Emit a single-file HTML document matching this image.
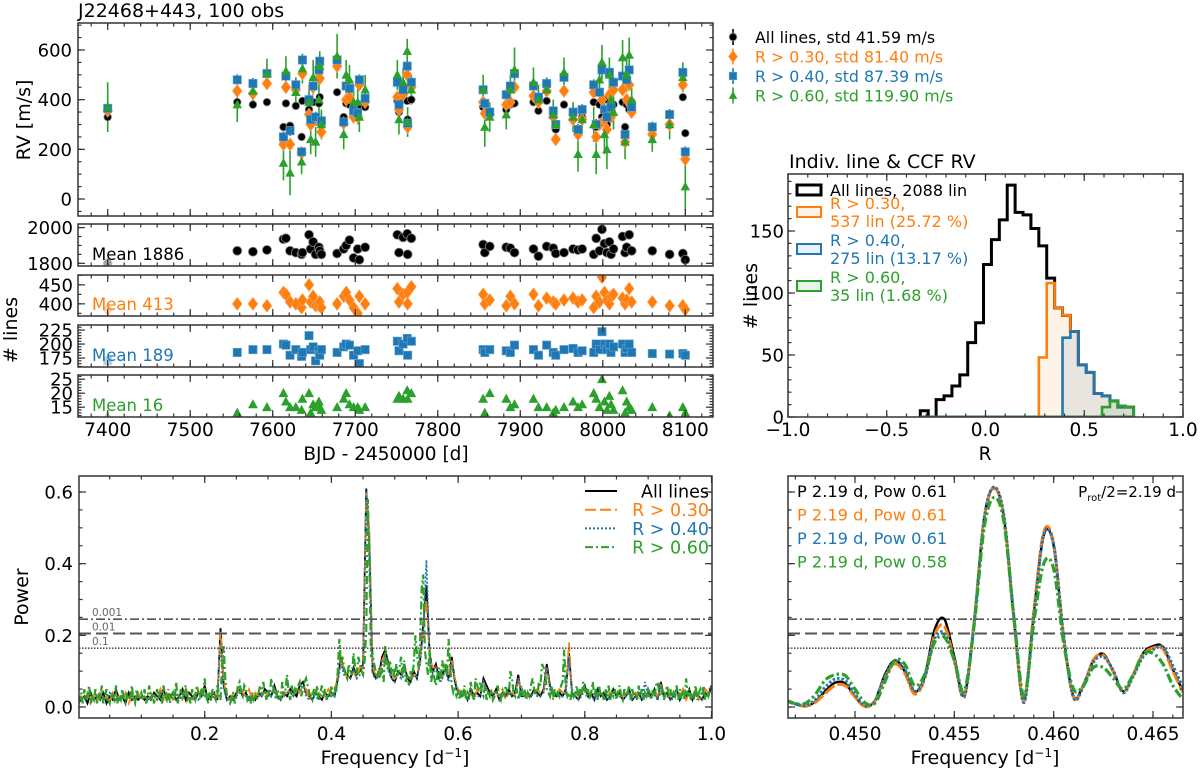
<!DOCTYPE html>
<html><head><meta charset="utf-8"><title>J22468+443 RV lines</title>
<style>
html,body{margin:0;padding:0;background:#fff;}
svg{display:block;font-family:"DejaVu Sans","Liberation Sans",sans-serif;}
</style></head>
<body>
<svg id="fig" xmlns="http://www.w3.org/2000/svg" width="1200" height="769" viewBox="0 0 1200 769"></svg>
<script>
// ---------------- DATA ----------------
const epochs = [7400,7557,7576,7593,7613,7616,7621,7628,7635,7636,7644,7646,7649,7652,7656,7657,7659,7678,7686,7689,7693,7698,7703,7705,7712,7751,7753,7758,7763,7763.5,7768,7855,7857,7863,7883,7888,7893,7916,7922,7932,7940,7943,7953,7964,7970,7975,7989,7992,7996,7999,8002,8005,8008,8010,8013,8024,8027,8029,8032,8035,8060,8081,8097,8100];
const rvAll = [330,390,380,390,290,385,295,375,250,395,360,300,390,310,385,410,300,430,330,385,380,370,365,380,370,395,350,400,395,320,400,370,385,340,360,380,385,390,355,395,330,280,380,340,270,330,390,290,380,330,400,300,370,350,380,390,290,380,360,390,290,340,410,265];
const rvR30 = [355,435,425,465,220,450,220,440,185,505,340,300,450,320,490,485,270,535,305,400,410,330,330,460,390,410,360,420,500,290,450,390,345,340,380,390,450,415,390,435,330,240,435,320,260,320,430,250,300,400,320,280,420,330,440,440,230,400,460,350,260,300,460,160];
const rvR40 = [365,480,465,505,250,495,275,460,190,560,400,320,455,330,520,555,315,560,310,455,445,355,345,480,405,470,380,440,535,305,470,440,385,350,420,455,505,455,410,465,355,300,490,350,280,360,460,300,430,520,360,330,510,370,470,495,260,480,520,370,290,340,510,190];
const rvR60 = [370,380,435,505,145,515,105,430,150,525,390,240,490,230,400,535,300,575,260,500,480,390,390,330,440,500,320,470,595,310,440,440,290,330,340,440,520,470,400,440,340,300,510,330,180,320,300,180,480,550,260,200,500,400,350,570,230,500,580,400,240,300,490,50];
const rvR60Err = [100,70,50,60,70,60,90,60,50,60,70,60,70,60,70,60,60,90,60,60,60,70,90,60,60,60,60,60,50,60,60,60,80,60,60,60,90,60,60,50,60,60,60,60,70,60,70,80,70,70,80,80,70,70,70,70,70,70,70,60,50,60,60,100];
const nAll = [1800,1870,1865,1875,1935,1940,1870,1860,1850,1860,1960,1880,1920,1850,1890,1870,1850,1855,1880,1900,1930,1830,1880,1820,1890,1960,1860,1945,1965,1850,1940,1905,1860,1895,1890,1885,1860,1880,1840,1895,1885,1855,1860,1880,1875,1880,1850,1940,1870,1990,1910,1860,1920,1850,1880,1950,1860,1890,1960,1870,1870,1850,1855,1820];
const nR30 = [385,400,400,395,430,425,405,400,390,410,450,405,420,395,395,405,390,400,420,430,410,390,375,420,400,440,405,425,430,400,445,425,400,410,395,420,400,425,395,415,405,400,410,415,405,410,390,420,405,470,430,410,400,420,425,415,400,410,440,405,405,395,395,385];
const nR40 = [170,185,190,190,200,198,180,190,178,185,215,190,195,170,188,180,190,185,195,200,198,180,188,165,190,205,188,200,210,180,205,190,185,190,188,185,198,190,180,198,185,180,190,192,185,188,185,200,190,222,200,190,200,185,195,200,185,192,200,185,183,182,183,180];
const nR60 = [12,13,16,15,20,17,15,15,14,18,20,13,16,15,17,15,14,15,18,20,16,15,15,14,15,18,19,18,21,18,20,18,13,20,18,15,16,18,15,15,13,14,15,17,15,16,20,18,15,25,17,14,19,16,14,21,13,17,15,14,15,12,15,13];
const meanLabels = ["Mean 1886","Mean 413","Mean 189","Mean 16"];
const legendRV = ["All lines, std 41.59 m/s","R > 0.30, std 81.40 m/s","R > 0.40, std 87.39 m/s","R > 0.60, std 119.90 m/s"];

// histogram (bin edges start, width)
const histStart = -0.33, histWidth = 0.04;
const histAll = [5,0,14,17,25,34,60,76,123,143,159,187,165,163,152,138,112,88,82,69,42,36,19,17,13,8,8];
const histR30 = [0,0,0,0,0,0,0,0,0,0,0,0,0,0,0,48,108,88,82,69,42,36,19,17,13,8,8];
const histR40 = [0,0,0,0,0,0,0,0,0,0,0,0,0,0,0,0,0,0,64,69,42,36,19,17,13,8,8];
const histR60 = [0,0,0,0,0,0,0,0,0,0,0,0,0,0,0,0,0,0,0,0,0,0,0,8,13,9,8];
const histLegend = [["All lines, 2088 lin"],["R > 0.30,","537 lin (25.72 %)"],["R > 0.40,","275 lin (13.17 %)"],["R > 0.60,","35 lin (1.68 %)"]];

// periodograms (power x100); coarse grid step 0.005 for first three, 0.0025 for R>0.60
const pgStepA = 0.005, pgStepB = 0.0025;
const pgAll = [2,3,1,4,2,3,2,4,1,3,2,5,2,3,1,4,2,3,2,3, 2,3,2,4,3,2,5,2,3,4,2,3,5,2,4,3,2,4,3,6, 2,3,4,2,22,6,2,3,2,4,5,3,4,2,3,2,4,3,5,4, 3,6,3,2,4,3,5,4,3,6,7,4,3,2,4,3,2,4,3,4, 3,8,14,10,9,8,11,9,10,12,61,45,10,8,9,14,16,12,8,7, 10,9,12,8,7,10,8,13,23,34,15,10,12,8,9,11,8,14,7,4, 3,4,2,5,3,4,3,8,6,4,3,5,2,4,3,5,3,4,9,3, 3,4,3,5,4,3,5,12,6,4,3,4,3,5,15,4,3,2,4,6, 3,4,2,5,3,4,2,3,5,3,4,2,3,5,2,3,4,2,3,4, 3,5,2,7,3,4,2,3,5,2,4,3,5,2,4,3,2,4,3,6];
const pgR30 = [3,2,4,1,3,2,4,2,3,1,4,2,3,2,4,1,3,2,4,2, 3,2,4,3,2,5,2,4,3,2,4,3,2,5,3,2,4,3,5,4, 3,2,4,3,21,7,3,2,4,3,6,4,3,5,2,4,3,4,4,3, 4,5,3,4,3,5,4,3,5,4,6,5,2,4,3,4,3,3,5,3, 4,9,13,11,8,9,10,8,11,11,60,49,11,9,8,13,15,11,9,8, 9,10,11,9,8,9,9,12,22,30,14,11,11,9,8,12,9,13,8,5, 4,3,4,4,2,5,4,7,5,3,4,4,3,5,2,4,4,3,8,4, 4,3,4,4,5,4,4,11,5,3,4,5,4,4,18,3,4,3,5,5, 4,3,3,4,4,3,3,4,4,4,3,3,4,4,3,4,3,3,4,3, 4,4,3,6,4,3,3,4,4,3,5,2,4,3,5,2,3,5,4,5];
const pgR40 = [2,2,3,2,2,3,3,2,2,4,3,2,2,4,2,3,3,2,3,2, 3,2,3,3,2,4,3,3,2,3,3,2,4,3,3,2,3,2,4,3, 2,2,3,3,18,5,2,2,3,3,4,3,3,3,2,3,3,3,4,3, 3,5,2,3,3,4,4,3,4,5,6,3,2,3,3,2,3,3,3,3, 3,7,12,9,8,8,10,8,9,10,61,45,9,8,8,12,14,10,8,7, 9,8,11,7,7,9,8,12,21,41,14,9,11,7,8,10,7,12,7,4, 3,3,2,4,3,3,3,7,5,3,3,4,2,3,3,4,3,3,8,3, 3,3,3,4,3,3,4,11,5,3,3,3,3,4,14,3,3,2,3,5, 3,3,2,4,3,3,2,3,4,3,3,2,3,4,2,3,3,2,7,3, 3,4,2,6,3,3,2,3,4,2,3,3,4,2,3,3,2,3,3,5];
const pgR60 = [2,4,1,5,2,3,6,1,3,2,5,1,4,2,6,1,3,5,2,1,4,3,2,6,1,3,2,5,2,1,4,2,3,6,2,1,5,2,3,4,
 2,5,1,3,6,2,4,1,3,5,2,4,1,6,3,2,5,1,3,4,2,7,1,3,5,2,4,6,2,3,1,5,3,2,6,4,2,5,3,8,
 3,1,4,2,5,3,2,6,4,2,12,17,8,3,2,1,2,4,1,3,6,7,4,3,6,5,2,3,1,4,2,3,2,4,6,3,7,4,2,5,
 3,8,6,4,2,5,3,2,7,3,5,9,4,2,6,3,5,4,6,7,3,5,7,8,6,4,3,2,5,3,6,2,4,6,3,5,2,4,3,6,
 3,5,4,10,19,12,14,11,9,8,12,10,9,15,11,9,14,12,10,9,13,21,58,40,14,15,12,10,8,11,9,10,7,17,12,10,13,9,11,8,
 12,9,11,14,8,13,7,9,6,10,8,12,20,15,11,18,33,37,16,12,9,16,7,10,8,6,9,11,7,13,10,12,9,19,11,6,4,5,3,4,
 2,5,3,6,2,4,3,7,4,2,8,6,5,7,4,3,6,2,4,3,5,2,3,4,6,3,2,5,3,6,4,3,10,8,4,3,5,2,4,6,
 3,5,2,4,3,6,8,5,4,3,7,6,12,11,9,5,4,3,6,2,5,3,4,3,6,7,16,5,3,4,2,5,3,4,6,2,5,3,7,5,
 3,5,2,4,7,3,5,2,6,3,4,2,5,3,6,2,4,3,5,2,4,6,3,2,5,3,4,6,2,5,3,4,2,6,3,5,2,4,3,5,
 4,2,5,3,6,7,4,3,5,2,4,6,3,5,2,4,3,6,2,5,3,4,2,8,3,5,2,4,3,6,2,4,5,3,6,2,4,3,5,6];
const fapLevels = [0.245,0.205,0.164];
const fapLabels = ["0.001","0.01","0.1"];

// zoomed periodogram: freq start 0.4465, step 0.0005
const zStart = 0.4465, zStep = 0.0005;
const zAll = [0.018,0.008,0.002,0.015,0.044,0.068,0.066,0.030,0.002,0.018,0.090,0.130,0.100,0.042,0.085,0.215,0.245,0.140,0.033,0.243,0.527,0.612,0.527,0.243,0.018,0.262,0.480,0.450,0.196,0.030,0.063,0.130,0.148,0.100,0.044,0.090,0.150,0.170,0.168,0.105,0.045];
const zR30 = [0.018,0.008,0.002,0.013,0.038,0.060,0.060,0.028,0.001,0.016,0.082,0.120,0.095,0.036,0.078,0.200,0.225,0.130,0.028,0.240,0.525,0.610,0.528,0.245,0.016,0.268,0.488,0.455,0.195,0.028,0.060,0.132,0.145,0.098,0.042,0.088,0.146,0.165,0.162,0.100,0.042];
const zR40 = [0.016,0.009,0.004,0.020,0.055,0.078,0.074,0.036,0.004,0.016,0.085,0.128,0.105,0.045,0.080,0.190,0.205,0.130,0.030,0.235,0.525,0.614,0.532,0.250,0.012,0.255,0.480,0.452,0.200,0.026,0.058,0.125,0.140,0.102,0.040,0.085,0.140,0.160,0.168,0.115,0.055];
const zR60 = [0.020,0.010,0.010,0.035,0.075,0.090,0.088,0.050,0.012,0.010,0.070,0.130,0.120,0.060,0.090,0.180,0.195,0.130,0.045,0.230,0.500,0.585,0.515,0.250,0.030,0.235,0.400,0.385,0.180,0.050,0.060,0.110,0.110,0.080,0.050,0.090,0.148,0.150,0.120,0.060,0.022];
const zLabels = ["P 2.19 d, Pow 0.61","P 2.19 d, Pow 0.61","P 2.19 d, Pow 0.61","P 2.19 d, Pow 0.58"];

// ---------------- HELPERS ----------------
const NS = "http://www.w3.org/2000/svg";
const svg = document.getElementById('fig');
const COL = ['#000000','#ff7f0e','#1f77b4','#2ca02c'];
const TICKFS = 18;
function mk(tag, attrs, parent){
  const e = document.createElementNS(NS, tag);
  for (const k in attrs) e.setAttribute(k, attrs[k]);
  (parent||svg).appendChild(e);
  return e;
}
function txt(s, x, y, size, anchor, fill, parent){
  const t = mk('text', {x:x, y:y, 'font-size':size, 'text-anchor':anchor||'start', fill:fill||'#000'}, parent);
  t.textContent = s;
  return t;
}
function lin(d0,d1,p0,p1){ return v => p0 + (v-d0)*(p1-p0)/(d1-d0); }
function range(a,b,s){ const r=[]; for(let v=a; v<=b+1e-9; v+=s) r.push(+v.toFixed(6)); return r; }
let clipId = 0;
function panel(name, L,R,T,B){
  const g = mk('g', {});
  
  
  const id = 'clip'+(clipId++);
  const cp = mk('clipPath', {id:id}, g);
  mk('rect', {x:L, y:T, width:R-L, height:B-T}, cp);
  const inner = mk('g', {'clip-path':'url(#'+id+')'}, g);
  
  
  return {g:g, inner:inner, L:L, R:R, T:T, B:B};
}
function frame(p, xs, ys, xMaj, xMin, yMaj, yMin){
  const g = mk('g', {stroke:'#333', 'stroke-width':1.2, fill:'none'}, p.g);
  
  
  const tk = (vals, len, isX) => vals.forEach(v => {
    if (isX){ const x = xs(v); if (x < p.L-0.5 || x > p.R+0.5) return;
      mk('line', {x1:x, x2:x, y1:p.B, y2:p.B-len}, g); mk('line', {x1:x, x2:x, y1:p.T, y2:p.T+len}, g);
    } else { const y = ys(v); if (y < p.T-0.5 || y > p.B+0.5) return;
      mk('line', {x1:p.L, x2:p.L+len, y1:y, y2:y}, g); mk('line', {x1:p.R, x2:p.R-len, y1:y, y2:y}, g);
    }});
  tk(xMaj, 7, true); tk(xMin, 3.5, true); tk(yMaj, 7, false); tk(yMin, 3.5, false);
  const f = mk('rect', {x:p.L, y:p.T, width:p.R-p.L, height:p.B-p.T, fill:'none', stroke:'#333', 'stroke-width':1.5}, p.g);
  
  
}
function marker(kind, x, y, color, parent, s){
  let e;
  if (kind===0) e = mk('circle', {cx:x, cy:y, r:s||3.8, fill:color, stroke:'#888', 'stroke-width':0.8}, parent);
  else if (kind===1){ const r=(s||6.5); e = mk('polygon', {points:`${x},${y-r} ${x+r*0.75},${y} ${x},${y+r} ${x-r*0.75},${y}`, fill:color, stroke:'#f9a45c', 'stroke-width':0.6}, parent); }
  else if (kind===2){ const r=(s||4.2); e = mk('rect', {x:x-r, y:y-r, width:2*r, height:2*r, fill:color, stroke:'#6aa6d0', 'stroke-width':0.6}, parent); }
  else { const r=(s||5); e = mk('polygon', {points:`${x},${y-r} ${x+r*0.95},${y+r*0.75} ${x-r*0.95},${y+r*0.75}`, fill:color}, parent); }
  return e;
}

// ---------------- TITLE ----------------
const title = txt("J22468+443, 100 obs", 78, 17, 19, 'start');



// ---------------- RV PANEL ----------------
const LEFT = 78, RIGHT = 713;
const xDate = lin(7400, 8100, 107.7, 685.3);
const dateMaj = range(7400, 8100, 100), dateMin = range(7340, 8130, 20);
{
  const p = panel('rv-panel', LEFT, RIGHT, 23, 216);
  const ys = lin(0, 600, 199, 50);
  frame(p, xDate, ys, dateMaj, dateMin, range(0,600,200), range(-50,700,50));
  const series = [rvAll, rvR30, rvR40, rvR60];
  epochs.forEach((d,i) => {
    const x = xDate(d);
    const eb = mk('line', {x1:x, x2:x, y1:ys(rvR60[i]-rvR60Err[i]), y2:ys(rvR60[i]+rvR60Err[i]), stroke:COL[3], 'stroke-width':1.6}, p.inner);
    
    
    const eb2 = mk('line', {x1:x, x2:x, y1:ys(rvR40[i]-22), y2:ys(rvR40[i]+22), stroke:COL[2], 'stroke-width':1.6}, p.inner);
    
    
  });
  series.forEach((arr, s) => {
    epochs.forEach((d,i) => {
      const m = marker(s, xDate(d), ys(arr[i]), COL[s], p.inner);
      
      
    });
  });
  ['600','400','200','0'].forEach(v => {
    const t = txt(v, 72, ys(+v)+6.5, TICKFS, 'end', '#000', p.g);
    
    
  });
  const yl = txt("RV [m/s]", 0, 0, 19, 'middle', '#000', p.g);
  yl.setAttribute('transform', 'translate(30,120) rotate(-90)');
  
  
}
// RV legend
legendRV.forEach((s, i) => {
  const y = 37 + i*19.5;
  const g = mk('g', {});
  
  
  mk('line', {x1:733, x2:733, y1:y-8, y2:y+8, stroke:COL[i], 'stroke-width':1.6}, g);
  marker(i, 733, y, COL[i], g, [3.8,6,3.8,4.5][i]);
  txt(s, 755, y+6, 15.8, 'start', COL[i], g);
});

// ---------------- COUNT SUBPANELS ----------------
const subDefs = [
  {arr:nAll, T:224, B:266, lo:1785, hi:2020, maj:[1800,2000], min:range(1800,2000,50), labels:['2000','1800'], lab:[2000,1800]},
  {arr:nR30, T:275, B:316, lo:368, hi:476, maj:[400,450], min:range(375,475,25), labels:['450','400'], lab:[450,400]},
  {arr:nR40, T:325, B:367, lo:159, hi:234, maj:[175,200,225], min:range(160,230,5), labels:['225','200','175'], lab:[225,200,175]},
  {arr:nR60, T:375, B:417, lo:11.5, hi:26.5, maj:[15,20,25], min:range(12,26,1), labels:['25','20','15'], lab:[25,20,15]},
];
subDefs.forEach((sd, s) => {
  const p = panel('count-panel-'+['all','r30','r40','r60'][s], LEFT, RIGHT, sd.T, sd.B);
  const ys = lin(sd.lo, sd.hi, sd.B, sd.T);
  frame(p, xDate, ys, dateMaj, dateMin, sd.maj, sd.min);
  epochs.forEach((d,i) => {
    const m = marker(s, xDate(d), ys(sd.arr[i]), COL[s], p.inner, [4.5,6.5,4.2,5.2][s]);
    
    
    if (i===0) m.setAttribute('opacity', '0.35');
  });
  const ml = txt(meanLabels[s], 92, sd.B-6, 16.5, 'start', COL[s], p.g);
  
  
  sd.labels.forEach((l, k) => {
    const t = txt(l, 73, ys(sd.lab[k])+6.5, TICKFS, 'end', '#000', p.g);
    
    
  });
});
dateMaj.forEach(d => {
  const t = txt(String(d), xDate(d), 436, TICKFS+0.5, 'middle');
  
  
});
{
  const t = txt("BJD - 2450000 [d]", 386, 460, 18.5, 'middle');
  
  
  const y = txt("# lines", 0, 0, 19, 'middle');
  y.setAttribute('transform', 'translate(17,330) rotate(-90)');
  
  
}

// ---------------- HISTOGRAM ----------------
{
  const p = panel('histogram-panel', 788, 1183, 174, 417);
  const xs = lin(-1, 1, 788, 1183), ys = lin(0, 150, 417, 231);
  frame(p, xs, ys, range(-1,1,0.5), range(-1,1,0.1), range(0,150,50), range(0,190,10));
  const fills = ['none','rgba(255,127,14,0.1)','rgba(31,119,180,0.1)','rgba(44,160,44,0.1)'];
  [histAll, histR30, histR40, histR60].forEach((arr, s) => {
    let d = '';
    let started = false;
    arr.forEach((v, i) => {
      const x0 = xs(histStart + i*histWidth), x1 = xs(histStart + (i+1)*histWidth);
      if (!started){ d += `M${x0},${ys(0)} `; started = true; }
      d += `L${x0},${ys(v)} L${x1},${ys(v)} `;
    });
    d += `L${xs(histStart + arr.length*histWidth)},${ys(0)} Z`;
    const path = mk('path', {d:d, fill:fills[s], stroke:COL[s], 'stroke-width':s===0?3:2.6, 'stroke-linejoin':'miter'}, p.inner);
    
    
  });
  [['0',0],['50',50],['100',100],['150',150]].forEach(([l,v]) => {
    const t = txt(l, 784, ys(v)+6.5, TICKFS, 'end');
    
    
  });
  [['\u22121.0',-1],['\u22120.5',-0.5],['0.0',0],['0.5',0.5],['1.0',1]].forEach(([l,v]) => {
    const t = txt(l, xs(v), 436, TICKFS+0.5, 'middle');
    
    
  });
  const xl = txt("R", 985, 460, 18.5, 'middle');
  
  
  const yl = txt("# lines", 0, 0, 19, 'middle');
  yl.setAttribute('transform', 'translate(757,296) rotate(-90)');
  
  
  const tt = txt("Indiv. line & CCF RV", 789, 168, 19, 'start');
  
  
  const ly = [190, 216, 253, 290];
  histLegend.forEach((lines, s) => {
    const g = mk('g', {});
    
    
    const by = s===0 ? ly[0] : ly[s]-4;
    mk('rect', {x:797, y:by-5, width:24, height:10, fill:fills[s]==='none'?'#fff':fills[s], stroke:COL[s], 'stroke-width':s===0?3:2}, g);
    lines.forEach((l, k) => txt(l, 830, (s===0?ly[0]+6:ly[s]-12) + k*18 + (s===0?0:5), 16, 'start', COL[s], g));
  });
}

// ---------------- PERIODOGRAM ----------------
const pyScale = lin(0, 0.6, 707, 492);
const dashes = ['', '11,4', '2,2', '8,3,2,3'];
{
  const p = panel('periodogram-panel', 79, 712, 476, 718);
  const xs = lin(0, 1, 78, 711.5);
  frame(p, xs, pyScale, range(0.2,1,0.2), range(0.05,1,0.05), range(0,0.6,0.2), range(0,0.65,0.05));
  [[pgAll,pgStepA],[pgR30,pgStepA],[pgR40,pgStepA],[pgR60,pgStepB]].forEach(([arr, st], s) => {
    let d = `M${xs(0.0)},${pyScale(0.01)} `;
    arr.forEach((v, i) => { d += `L${xs((i+1)*st).toFixed(2)},${pyScale(v/100).toFixed(2)} `; });
    const path = mk('path', {d:d, fill:'none', stroke:COL[s], 'stroke-width':s===3?2.2:1.8, 'stroke-dasharray':dashes[s]}, p.inner);
    
    
  });
  const fapDash = ['9,3,2,3','12,5','1.5,1.5'];
  fapLevels.forEach((v, k) => {
    const l = mk('line', {x1:p.L, x2:p.R, y1:pyScale(v), y2:pyScale(v), stroke:'#555', 'stroke-width':k===1?2:1.6, 'stroke-dasharray':fapDash[k]}, p.inner);
    
    
    const t = txt(fapLabels[k], 92, pyScale(v)-3, 10.5, 'start', '#666', p.g);
    
    
  });
  [['0.0',0],['0.2',0.2],['0.4',0.4],['0.6',0.6]].forEach(([l,v]) => {
    const t = txt(l, 73, pyScale(v)+6.5, TICKFS, 'end');
    
    
  });
  [0.2,0.4,0.6,0.8,1.0].forEach(v => {
    const t = txt(v.toFixed(1), xs(v), 740, TICKFS+0.5, 'middle');
    
    
  });
  const xl = mk('text', {x:395, y:764, 'font-size':19, 'text-anchor':'middle'});
  xl.innerHTML = 'Frequency [d<tspan dy="-7" font-size="12">\u22121</tspan><tspan dy="7">]</tspan>';
  
  
  const yl = txt("Power", 0, 0, 19, 'middle');
  yl.setAttribute('transform', 'translate(28,597) rotate(-90)');
  
  
  const names = ['All lines','R > 0.30','R > 0.40','R > 0.60'];
  names.forEach((n, s) => {
    const y = 491 + s*18.7;
    const g = mk('g', {});
    
    
    mk('line', {x1:585, x2:617, y1:y, y2:y, stroke:COL[s], 'stroke-width':2, 'stroke-dasharray':dashes[s]}, g);
    txt(n, 709, y+6.5, 17.5, 'end', COL[s], g);
  });
}

// ---------------- ZOOMED PERIODOGRAM ----------------
{
  const p = panel('zoom-periodogram-panel', 788, 1183, 476, 718);
  const xs = lin(0.450, 0.465, 855, 1153);
  frame(p, xs, pyScale, range(0.450,0.465,0.005), range(0.447,0.466,0.001), range(0,0.6,0.2), range(0,0.65,0.05));
  const fapDash = ['9,3,2,3','12,5','1.5,1.5'];
  fapLevels.forEach((v, k) => {
    const l = mk('line', {x1:p.L, x2:p.R, y1:pyScale(v), y2:pyScale(v), stroke:'#555', 'stroke-width':k===1?2:1.6, 'stroke-dasharray':fapDash[k]}, p.inner);
    
    
  });
  const zw = [2.4, 3, 3, 3.2];
  [zAll, zR30, zR40, zR60].forEach((arr, s) => {
    const pts = arr.map((v, i) => [xs(zStart + i*zStep), pyScale(v)]);
    let d = `M${pts[0][0]},${pts[0][1]} `;
    for (let i = 0; i < pts.length-1; i++){
      const p0 = pts[Math.max(0,i-1)], p1 = pts[i], p2 = pts[i+1], p3 = pts[Math.min(pts.length-1,i+2)];
      const c1 = [p1[0]+(p2[0]-p0[0])/6, p1[1]+(p2[1]-p0[1])/6];
      const c2 = [p2[0]-(p3[0]-p1[0])/6, p2[1]-(p3[1]-p1[1])/6];
      d += `C${c1[0].toFixed(2)},${c1[1].toFixed(2)} ${c2[0].toFixed(2)},${c2[1].toFixed(2)} ${p2[0].toFixed(2)},${p2[1].toFixed(2)} `;
    }
    const path = mk('path', {d:d, fill:'none', stroke:COL[s], 'stroke-width':zw[s], 'stroke-dasharray':['','12,3','2.5,2','9,3,2.5,3'][s]}, p.inner);
    
    
  });
  zLabels.forEach((l, s) => {
    const t = txt(l, 797, 497 + s*23.5, 16.2, 'start', COL[s], p.g);
    
    
  });
  const pr = mk('text', {x:1176, y:497, 'font-size':15, 'text-anchor':'end'}, p.g);
  pr.innerHTML = 'P<tspan dy="4" font-size="10">rot</tspan><tspan dy="-4">/2=2.19 d</tspan>';
  
  
  ['0.450','0.455','0.460','0.465'].forEach(l => {
    const t = txt(l, xs(+l), 740, TICKFS+0.5, 'middle');
    
    
  });
  const xl = mk('text', {x:985, y:764, 'font-size':19, 'text-anchor':'middle'});
  xl.innerHTML = 'Frequency [d<tspan dy="-7" font-size="12">\u22121</tspan><tspan dy="7">]</tspan>';
  
  
}
</script>
</body></html>
